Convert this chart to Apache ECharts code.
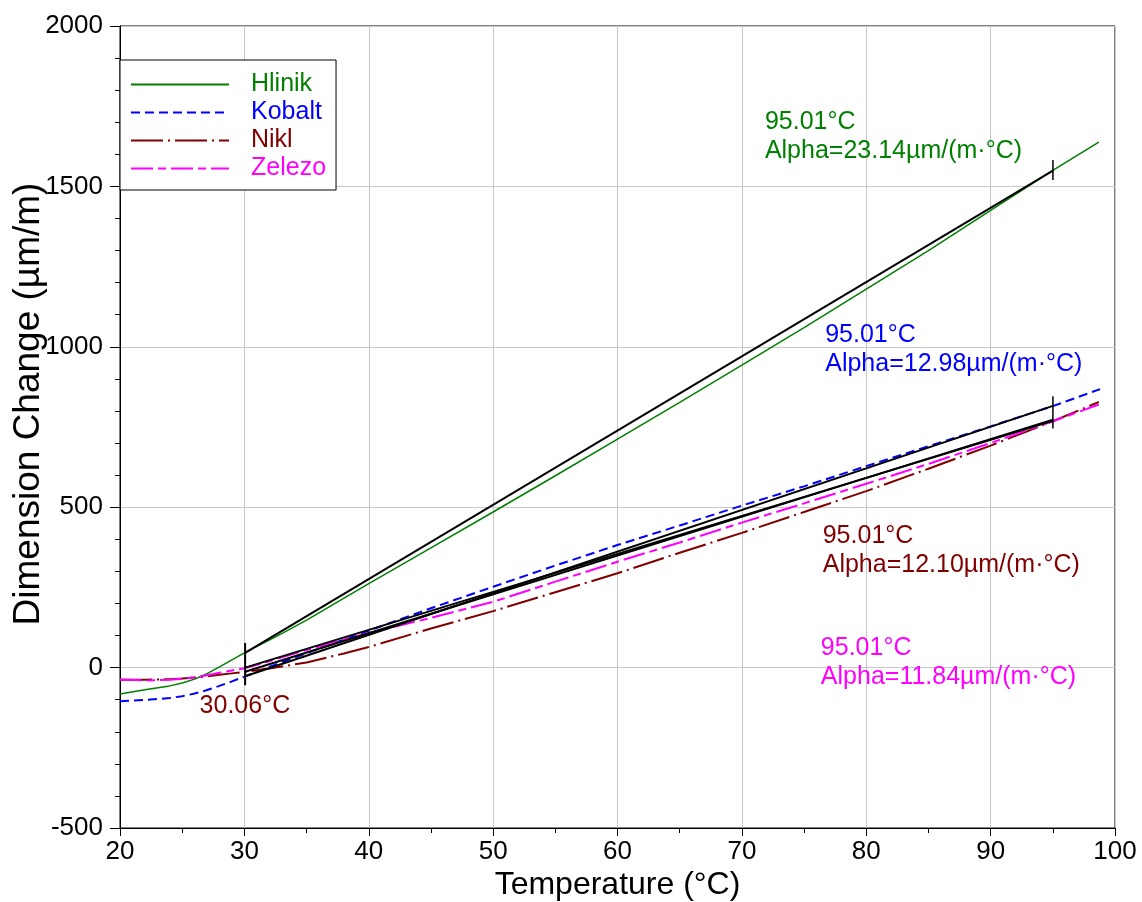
<!DOCTYPE html>
<html>
<head>
<meta charset="utf-8">
<script src="https://cdn.jsdelivr.net/npm/echarts@6/dist/echarts.min.js"></script>
<style>html,body{margin:0;padding:0;background:#fff}#c{width:1142px;height:902px}</style>
</head>
<body>
<div id="c"></div>
<script>
const FONT = "'Liberation Sans', Arial, sans-serif";
// Data
const xTicks = [20, 30, 40, 50, 60, 70, 80, 90, 100];
const yTicks = [-500, 0, 500, 1000, 1500, 2000];

const hlinikT = [20, 22, 24, 25, 26, 27, 28, 29, 30, 31, 32, 33, 35, 40, 45, 50, 55, 60, 65, 70, 75, 80, 85, 90, 95, 98.7];
const hlinikV = [-82, -69, -57, -48, -36, -19, 2, 24, 46, 66, 86, 106, 148, 262, 373, 485, 598, 712, 827, 943, 1060, 1180, 1300, 1425, 1550, 1638];

const kobaltT = [20, 22, 24, 25, 26, 27, 28, 29, 30, 32, 35, 40, 45, 50, 55, 60, 65, 70, 75, 80, 85, 90, 95, 98.8];
const kobaltV = [-105, -101, -95, -89, -81, -70, -57, -43, -28, 2, 45, 115, 185, 252, 318, 382, 443, 505, 565, 628, 690, 752, 815, 868];

const niklT = [20, 22, 24, 25, 26, 27, 28, 29, 30, 32, 35, 38, 40, 45, 50, 55, 60, 65, 70, 75, 80, 85, 90, 95, 98.7];
const niklV = [-38, -38, -36, -34, -31, -27, -22, -18, -14, -3, 16, 44, 64, 122, 176, 235, 294, 358, 420, 485, 550, 620, 692, 768, 828];

const zelezoT = [20, 22, 24, 25, 26, 27, 28, 29, 30, 32, 35, 38, 40, 45, 50, 55, 60, 65, 70, 75, 80, 85, 90, 95, 98.7];
const zelezoV = [-37, -40, -38, -35, -30, -24, -16, -9, -2, 20, 55, 88, 108, 155, 205, 268, 330, 390, 452, 512, 573, 635, 700, 768, 820];

const fitT = [30.06, 95.01];
const hlinikFit = [46, 1549];
const kobaltFit = [-27, 816];
const niklFit = [-13, 773];
const zelezoFit = [0, 769];

const markerLow = [[30.06, -55], [30.06, 77]];
const markerHighA = [[95.01, 1520], [95.01, 1582]];
const markerHighB = [[95.01, 745], [95.01, 846]];

const annotations = [
  {x: 71.85, y: 1701, lines: ['95.01°C', 'Alpha=23.14µm/(m·°C)'], color: '#008000'},
  {x: 76.7, y: 1037, lines: ['95.01°C', 'Alpha=12.98µm/(m·°C)'], color: '#0000ff'},
  {x: 76.5, y: 413, lines: ['95.01°C', 'Alpha=12.10µm/(m·°C)'], color: '#800000'},
  {x: 76.35, y: 61, lines: ['95.01°C', 'Alpha=11.84µm/(m·°C)'], color: '#ff00ff'},
  {x: 26.4, y: -117, lines: ['30.06°C'], color: '#800000'}
];

function zip(t, v) { return t.map((x, i) => [x, v[i]]); }

const chart = echarts.init(document.getElementById('c'), null, {renderer: 'canvas'});

function curve(name, t, v, color, type, width) {
  return {
    name, type: 'line', data: zip(t, v), symbol: 'none', smooth: false,
    lineStyle: {color, type, width}, itemStyle: {color}, z: 2, animation: false
  };
}
function blk(data, width) {
  return {type: 'line', data, symbol: 'none', lineStyle: {color: '#000', width: width}, z: 3, silent: true, animation: false};
}

const option = {
  backgroundColor: '#fff',
  animation: false,
  grid: {left: 120, right: 27, top: 26, bottom: 74, show: true, borderColor: '#000', borderWidth: 1,
         containLabel: false, outerBoundsMode: 'none'},
  xAxis: {
    type: 'value', min: 20, max: 100, interval: 10,
    name: 'Temperature (°C)', nameLocation: 'middle', nameGap: 41, nameMoveOverlap: false,
    nameTextStyle: {fontFamily: FONT, fontSize: 32, color: '#000'},
    axisLine: {show: true, onZero: false, lineStyle: {color: '#000'}},
    axisTick: {show: true, inside: false, length: 8, lineStyle: {color: '#000'}},
    minorTick: {show: true, splitNumber: 2, length: 5, lineStyle: {color: '#000'}},
    splitLine: {show: true, lineStyle: {color: '#c8c8c8', width: 1}},
    axisLabel: {fontFamily: FONT, fontSize: 26, color: '#000', margin: 11, formatter: v => String(v)}
  },
  yAxis: {
    type: 'value', min: -500, max: 2000, interval: 500,
    name: 'Dimension Change (µm/m)', nameLocation: 'middle', nameGap: 73, nameMoveOverlap: false,
    nameTextStyle: {fontFamily: FONT, fontSize: 37, color: '#000', padding: [0, 0, 0, 46]},
    axisLine: {show: true, onZero: false, lineStyle: {color: '#000'}},
    axisTick: {show: true, inside: false, length: 10, lineStyle: {color: '#000'}},
    minorTick: {show: true, splitNumber: 5, length: 5, lineStyle: {color: '#000'}},
    splitLine: {show: true, lineStyle: {color: '#c8c8c8', width: 1}},
    axisLabel: {fontFamily: FONT, fontSize: 26, color: '#000', margin: 17, formatter: v => String(v)}
  },
  legend: {
    left: 120, top: 60, orient: 'vertical',
    padding: [12, 10, 9, 10], itemGap: 3, itemWidth: 98, itemHeight: 14,
    borderColor: '#000', borderWidth: 1, backgroundColor: '#fff',
    itemStyle: {opacity: 0},
    textStyle: {fontFamily: FONT, fontSize: 25, lineHeight: 25, padding: [0, 0, 0, 17]},
    data: [
      {name: 'Hlinik', textStyle: {color: '#008000'}},
      {name: 'Kobalt', textStyle: {color: '#0000ff'}},
      {name: 'Nikl', textStyle: {color: '#800000'}},
      {name: 'Zelezo', textStyle: {color: '#ff00ff'}}
    ]
  },
  series: [
    curve('Hlinik', hlinikT, hlinikV, '#008000', 'solid', 1.5),
    curve('Kobalt', kobaltT, kobaltV, '#0000ff', [9, 5], 2),
    curve('Nikl', niklT, niklV, '#800000', [32, 5, 2, 5], 2),
    curve('Zelezo', zelezoT, zelezoV, '#ff00ff', [22, 5, 8, 5], 2),
    blk(zip(fitT, hlinikFit), 2),
    blk(zip(fitT, kobaltFit), 2),
    blk(zip(fitT, niklFit), 2),
    blk(zip(fitT, zelezoFit), 2),
    blk(markerLow, 2),
    blk(markerHighA, 1.5),
    blk(markerHighB, 1.5)
  ]
};
chart.setOption(option);

const graphics = [];
annotations.forEach(a => {
  const p = chart.convertToPixel({gridIndex: 0}, [a.x, a.y]);
  graphics.push({
    type: 'text', left: p[0], top: p[1] - 14, z: 10, silent: true,
    style: {text: a.lines.join('\n'), fill: a.color, font: '25px ' + FONT, lineHeight: 29}
  });
});
chart.setOption({graphic: graphics});
</script>
</body>
</html>
